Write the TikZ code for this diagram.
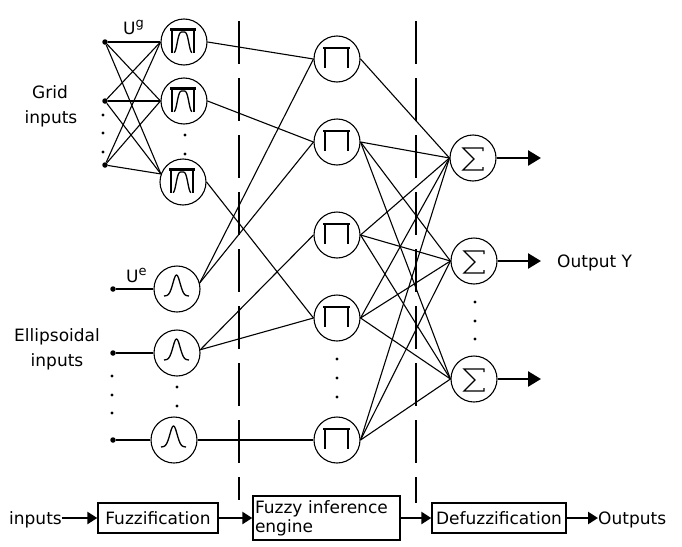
\documentclass[tikz,border=0pt]{standalone}
\usepackage{fontspec}
\setmainfont{DejaVu Sans}
\usetikzlibrary{arrows.meta}

\begin{document}
\begin{tikzpicture}[x=1pt,y=-1pt,
  wire/.style={line width=1.1pt},
  unit/.style={circle,draw,line width=1.1pt,minimum size=46pt,inner sep=0pt},
  glyph/.style={line width=1.3pt},
  tap/.style={circle,fill,inner sep=0pt,minimum size=5.5pt},
  dot/.style={circle,fill,inner sep=0pt,minimum size=3.2pt},
  lbl/.style={font=\fontsize{17}{19}\selectfont,inner sep=0pt},
  stage/.style={draw,line width=1.4pt,inner sep=0pt,font=\fontsize{17}{19}\selectfont},
  bigarrow/.style={line width=2.6pt,-{Triangle[length=13pt,width=15pt]}},
  smallarrow/.style={line width=2.4pt,-{Triangle[length=10pt,width=12pt]}},
  divider/.style={line width=1.3pt,dash pattern=on 43pt off 14pt},
  gridmf/.pic={
    \draw[line width=2.2pt] (-14,-12.5) -- (12,-12.5);
    \draw[glyph] (-12,-12) -- (-12,11) (10,-12) -- (10,11);
    \draw[glyph] plot[smooth,domain=-10:8,samples=37] (\x,{11-21*exp(-((\x+1)/6.3)^4)});
  },
  ellmf/.pic={
    \draw[glyph] plot[smooth,domain=-13:12,samples=51] (\x,{7-21*exp(-((\x+0.5)*(\x+0.5))/26)});
  },
  prodsym/.pic={
    \draw[line width=1.6pt] (-14,-11) -- (13,-11) (-12,-11) -- (-12,9) (11,-11) -- (11,9);
  },
  sumsym/.pic={
    \draw[glyph,line join=miter] (10,-7) -- (10,-10) -- (-10,-10) -- (1,1) -- (-10,12) -- (10,12) -- (10,9);
  },
]
\useasboundingbox (0,0) rectangle (682,546);

% ---- stage separators
\coordinate (d1t) at (239,21);  \coordinate (d1b) at (239,500);
\coordinate (d2t) at (416,21);  \coordinate (d2b) at (416,503);
\draw[divider] (d1t) -- (d1b);
\draw[divider] (d2t) -- (d2b);

% ---- grid inputs
\node[tap] (gi1) at (105,42) {};
\node[tap] (gi2) at (105,101) {};
\node[tap] (gi3) at (105,165) {};
\foreach \y [count=\i] in {115,133,152} \node[dot] (gd\i) at (103,\y) {};

% ---- ellipsoidal inputs
\node[tap] (ei1) at (113,289) {};
\node[tap] (ei2) at (113,353) {};
\node[tap] (ei3) at (113,440) {};
\foreach \y [count=\i] in {376,395,413} \node[dot] (ed\i) at (112,\y) {};

% ---- fuzzification units
\node[unit] (mf1) at (184,42) {};
\node[unit] (mf2) at (184,101) {};
\node[unit] (mf3) at (183,182) {};
\foreach \y [count=\i] in {135,154} \node[dot] (md\i) at (185,\y) {};
\node[unit] (e1) at (177,289) {};
\node[unit] (e2) at (177,353) {};
\node[unit] (e3) at (174,440) {};
\foreach \y [count=\i] in {387,406} \node[dot] (edd\i) at (177,\y) {};
\foreach \n in {mf1,mf2,mf3} \pic at (\n) {gridmf};
\foreach \n in {e1,e2,e3} \pic at (\n) {ellmf};

% ---- rule units
\node[unit] (p1) at (337,59) {};
\node[unit] (p2) at (337,142) {};
\node[unit] (p3) at (337,235) {};
\node[unit] (p4) at (337,318) {};
\node[unit] (p5) at (337,440) {};
\foreach \y [count=\i] in {359,378,397} \node[dot] (pd\i) at (337,\y) {};
\foreach \n in {p1,p2,p3,p4,p5} \pic at (\n) {prodsym};

% ---- output units
\node[unit] (s1) at (473,158) {};
\node[unit] (s2) at (474,261) {};
\node[unit] (s3) at (474,379) {};
\foreach \y [count=\i] in {302,321,339} \node[dot] (sd\i) at (475,\y) {};
\foreach \n in {s1,s2,s3} \pic at (\n) {sumsym};
\coordinate (o1) at (541,158);
\coordinate (o2) at (541,261);
\coordinate (o3) at (541,379);

% ---- grid input wiring (every input to every unit)
\foreach \g in {gi1,gi2,gi3} {
  \draw[wire] (\g) -- (mf1.west);
  \draw[wire] (\g) -- (mf2.west);
  \draw[wire] (\g) -- (mf3.160);
}
\draw[wire] (ei1) -- (e1.west);
\draw[wire] (ei2) -- (e2.west);
\draw[wire] (ei3) -- (e3.west);

% ---- fuzzification to rules
\draw[wire] (mf1.east) -- (p1.west);
\draw[wire] (mf2.east) -- (p2.west);
\draw[wire] (mf3.east) -- (p4.west);
\draw[wire] (e1.15) -- (p1.west);
\draw[wire] (e1.15) -- (p2.west);
\draw[wire] (e2.8) -- (p3.west);
\draw[wire] (e2.8) -- (p4.west);
\draw[wire] (e3.east) -- (p5.west);

% ---- rules to outputs
\draw[wire] (p1.east) -- (s1.west);
\foreach \p in {p2,p3,p4,p5}
  \foreach \s in {s1,s2,s3}
    \draw[wire] (\p.east) -- (\s.west);

\draw[bigarrow] (s1.east) -- (o1);
\draw[bigarrow] (s2.east) -- (o2);
\draw[bigarrow] (s3.east) -- (o3);

% ---- labels
\node[lbl,anchor=base] (gl1) at (50,98) {Grid};
\node[lbl,anchor=base] (gl2) at (51,123) {inputs};
\node[lbl,anchor=base] (el1) at (57,341) {Ellipsoidal};
\node[lbl,anchor=base] (el2) at (57,366) {inputs};
\node[lbl,anchor=base west] (ug) at (123,34) {U\raisebox{6.5pt}{\fontsize{13}{13}\selectfont g}};
\node[lbl,anchor=base west] (ue) at (126,282) {U\raisebox{6.5pt}{\fontsize{13}{13}\selectfont e}};
\node[lbl,anchor=base west] (oy) at (557,267) {Output Y};

% ---- block chain
\node[lbl,anchor=base west] (inlbl) at (9,524) {inputs};
\node[stage,minimum width=120pt,minimum height=30pt] (fuzz) at (158,518) {Fuzzification};
\node[stage,minimum height=44pt,text width=143pt,inner xsep=2pt,align=left] (fie) at (326.5,518) {Fuzzy inference\\engine};
\node[stage,minimum width=134pt,minimum height=30pt] (defz) at (499,518) {Defuzzification};
\node[lbl,anchor=base west] (outlbl) at (598,524) {Outputs};

\draw[smallarrow] (inlbl.east |- fuzz.west) -- (fuzz.west);
\draw[smallarrow] (fuzz.east) -- (fie.west |- fuzz.east);
\draw[smallarrow] (fie.east |- defz.west) -- (defz.west);
\draw[smallarrow] (defz.east) -- (outlbl.west |- defz.east);
\end{tikzpicture}
\end{document}
